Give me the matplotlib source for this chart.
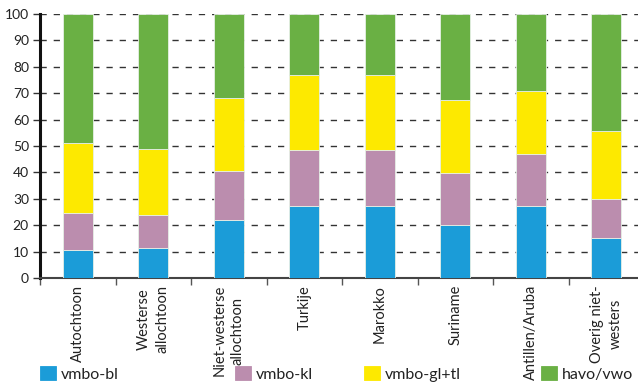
import matplotlib
matplotlib.use("Agg")
import matplotlib.pyplot as plt
import numpy as np

plt.rcParams['font.family'] = ['Lato', 'DejaVu Sans']

categories = ["Autochtoon", "Westerse\nallochtoon", "Niet-westerse\nallochtoon", "Turkije",
              "Marokko", "Suriname", "Antillen/Aruba", "Overig niet-\nwesters"]
series_names = ["vmbo-bl", "vmbo-kl", "vmbo-gl+tl", "havo/vwo"]
vmbo_bl = [10.6, 11.5, 22.1, 27.4, 27.4, 20.2, 27.4, 15.0]
vmbo_kl = [14.1, 12.4, 18.4, 21.2, 21.2, 19.6, 19.4, 14.9]
vmbo_gltl = [26.6, 24.8, 27.7, 28.4, 28.4, 27.5, 24.0, 25.8]
havo_vwo = [48.7, 51.3, 31.8, 23.0, 23.0, 32.7, 29.2, 44.3]
colors = ["#1B9CD8", "#BB8DAE", "#FDE900", "#6AB044"]

fig = plt.figure(figsize=(6.38, 3.82), dpi=100)
ax = fig.add_axes([40/638, 1-278/382, 1-40/638, (278-14)/382])

x = np.arange(len(categories))
bottom = np.zeros(len(categories))
handles = []
for vals, c, name in zip([vmbo_bl, vmbo_kl, vmbo_gltl, havo_vwo], colors, series_names):
    b = ax.bar(x, vals, width=0.4, bottom=bottom, color=c, edgecolor="#e6efe6", linewidth=0.6,
               label=name, zorder=3)
    handles.append(b)
    bottom += np.array(vals)

ax.set_xlim(-0.5, 7.42)
ax.set_ylim(0, 100)
ax.set_yticks(np.arange(0, 101, 10))
for yv in np.arange(10, 101, 10):
    ax.axhline(yv, color="#333333", lw=1.0, dashes=(4.5, 5), zorder=1)

ax.spines['top'].set_visible(False)
ax.spines['right'].set_visible(False)
ax.spines['left'].set_linewidth(2.2)
ax.spines['left'].set_color("#111111")
ax.spines['bottom'].set_linewidth(1.5)
ax.spines['bottom'].set_color("#444444")

ax.tick_params(axis='y', length=5, width=1.0, color="#333333", labelsize=10, pad=3, labelcolor="#222222")
ax.set_xticks(x)
ax.set_xticklabels(categories, rotation=90, fontsize=10.5, ha='center', va='top',
                   multialignment='center', linespacing=1.4)
ax.tick_params(axis='x', which='major', length=0, pad=5, labelcolor="#222222")
ax.set_xticks(np.arange(-0.5, 7.5, 1.0), minor=True)
ax.tick_params(axis='x', which='minor', length=5, width=1.0, color="#555555")

leg_pos = [40/638, 235/638, 364/638, 541/638]
for h, name, px in zip(handles, series_names, leg_pos):
    lg = fig.legend(handles=[h], labels=[name], loc='center left', bbox_to_anchor=(px, 1-374/382),
                    frameon=False, fontsize=11.5, handlelength=1.0, handleheight=1.0,
                    handletextpad=0.3, borderpad=0, borderaxespad=0)
    for p in lg.get_patches():
        p.set_edgecolor(p.get_facecolor())
    for t in lg.get_texts():
        t.set_color("#222222")

fig.savefig("out.png", dpi=100)
